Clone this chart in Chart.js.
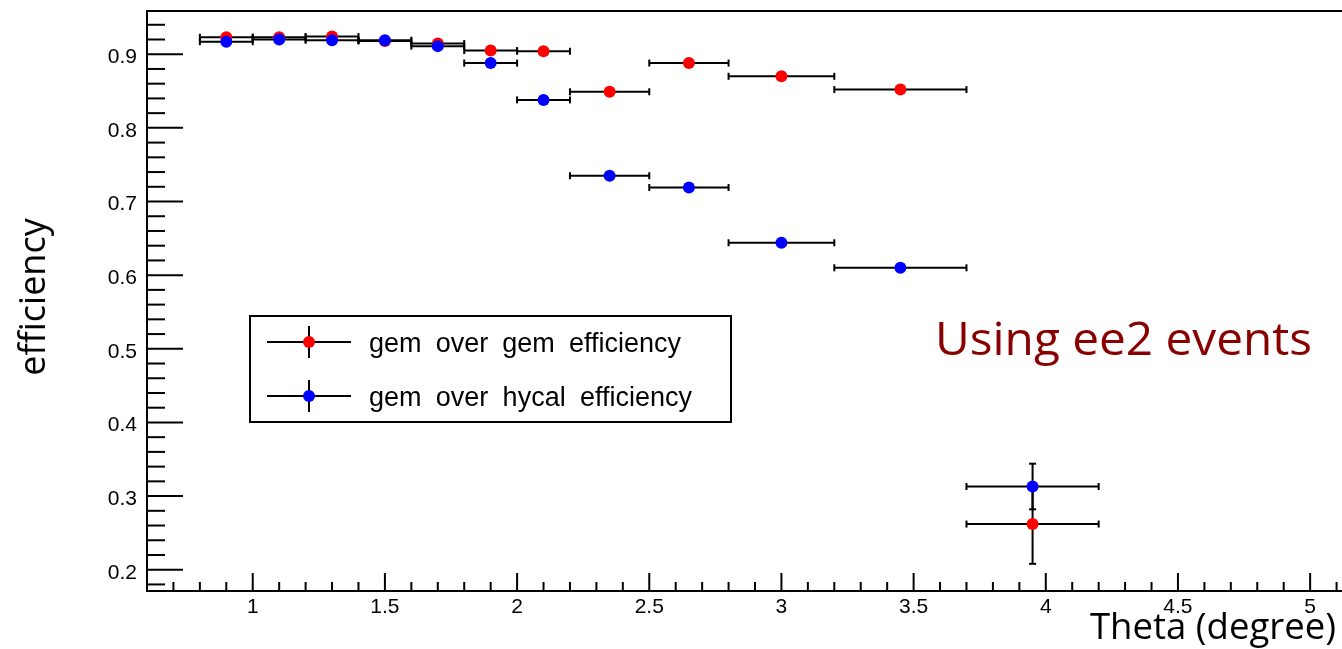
<!DOCTYPE html>
<html><head><meta charset="utf-8">
<script src="https://cdn.jsdelivr.net/npm/chart.js@4"></script>
<style>html,body{margin:0;padding:0;overflow:hidden;background:#fff}#wrap{width:1363px;height:649px;position:relative}canvas{display:block}</style>
</head><body>
<div id="wrap"><canvas id="c" width="1363" height="649" style="width:1363px;height:649px"></canvas></div>
<script>
// ---- data ----
const binCenters = [0.9, 1.1, 1.3, 1.5, 1.7, 1.9, 2.1, 2.35, 2.65, 3.0, 3.45, 3.95];
const binLow     = [0.8, 1.0, 1.2, 1.4, 1.6, 1.8, 2.0, 2.2, 2.5, 2.8, 3.2, 3.7];
const binHigh    = [1.0, 1.2, 1.4, 1.6, 1.8, 2.0, 2.2, 2.5, 2.8, 3.2, 3.7, 4.2];
const gemOverGem      = [0.923, 0.923, 0.924, 0.918, 0.9145, 0.905, 0.904, 0.849, 0.888, 0.870, 0.852, 0.262];
const gemOverGemErr   = [0.002, 0.002, 0.002, 0.002, 0.003, 0.003, 0.003, 0.004, 0.004, 0.004, 0.005, 0.054];
const gemOverHycal    = [0.917, 0.920, 0.919, 0.919, 0.911, 0.888, 0.838, 0.735, 0.719, 0.644, 0.610, 0.313];
const gemOverHycalErr = [0.002, 0.002, 0.002, 0.002, 0.003, 0.003, 0.003, 0.004, 0.004, 0.005, 0.005, 0.031];
const xTickLabels = [1, 1.5, 2, 2.5, 3, 3.5, 4, 4.5, 5];
const yTickLabels = [0.2, 0.3, 0.4, 0.5, 0.6, 0.7, 0.8, 0.9];
const seriesNames = ['gem over gem efficiency', 'gem over hycal efficiency'];
const seriesColors = ['#ff0000', '#0000ff'];
const xTitle = 'Theta (degree)';
const yTitle = 'efficiency';
const noteText = 'Using ee2 events';

function buildPoints(ys, errs) {
  return binCenters.map((x, i) => ({x: x, y: ys[i], xMin: binLow[i], xMax: binHigh[i], err: errs[i]}));
}

const R = 6;
function seg(ctx, x1, y1, x2, y2) { ctx.beginPath(); ctx.moveTo(x1, y1); ctx.lineTo(x2, y2); ctx.stroke(); }

function fitText(ctx, text, x, y, w) {
  const nat = ctx.measureText(text).width;
  ctx.save();
  ctx.translate(x, y);
  ctx.scale(w / nat, 1);
  ctx.textAlign = 'left';
  ctx.fillText(text, 0, 0);
  ctx.restore();
}

const rootStyle = {
  id: 'rootStyle',
  beforeDatasetsDraw(chart) {
    const ctx = chart.ctx, xs = chart.scales.x, ys = chart.scales.y;
    ctx.save();
    ctx.strokeStyle = '#000'; ctx.lineWidth = 2;
    chart.data.datasets.forEach(ds => {
      ds.data.forEach(p => {
        const cx = xs.getPixelForValue(p.x), cy = ys.getPixelForValue(p.y);
        const xl = xs.getPixelForValue(p.xMin), xh = xs.getPixelForValue(p.xMax);
        const yl = ys.getPixelForValue(p.y - p.err), yh = ys.getPixelForValue(p.y + p.err);
        seg(ctx, xl, cy, xh, cy);
        seg(ctx, xl, cy - 3.5, xl, cy + 3.5);
        seg(ctx, xh, cy - 3.5, xh, cy + 3.5);
        if (yl - cy > R) { seg(ctx, cx, cy, cx, yl); seg(ctx, cx - 3.5, yl, cx + 3.5, yl); }
        if (cy - yh > R) { seg(ctx, cx, cy, cx, yh); seg(ctx, cx - 3.5, yh, cx + 3.5, yh); }
      });
    });
    ctx.restore();
  },
  afterDraw(chart) {
    const ctx = chart.ctx, xs = chart.scales.x, ys = chart.scales.y, a = chart.chartArea;
    ctx.save();
    ctx.strokeStyle = '#000'; ctx.lineWidth = 2; ctx.lineCap = 'butt';
    // frame
    seg(ctx, a.left, a.top, a.right, a.top);
    seg(ctx, a.left, a.top - 1, a.left, a.bottom + 1);
    seg(ctx, a.left - 1, a.bottom, a.right, a.bottom);
    // y ticks
    for (let k = 0; ; k++) {
      const v = Math.round((0.18 + k * 0.02) * 100) / 100;
      if (v > ys.max) break;
      const py = ys.getPixelForValue(v);
      const major = yTickLabels.some(t => Math.abs(t - v) < 1e-6);
      seg(ctx, a.left, py, a.left + (major ? 36 : 18), py);
    }
    // x ticks
    for (let k = 0; ; k++) {
      const v = Math.round((0.7 + k * 0.1) * 10) / 10;
      if (v > xs.max) break;
      const px = xs.getPixelForValue(v);
      const major = xTickLabels.some(t => Math.abs(t - v) < 1e-6);
      seg(ctx, px, a.bottom, px, a.bottom - (major ? 18 : 9));
    }
    // axis titles
    ctx.fillStyle = '#000';
    ctx.font = '36px "Open Sans"';
    ctx.textBaseline = 'alphabetic';
    fitText(ctx, xTitle, 1336 - 246, 639, 246);
    ctx.save();
    ctx.translate(45, 297);
    ctx.rotate(-Math.PI / 2);
    ctx.textAlign = 'center';
    ctx.fillText(yTitle, 0, 0);
    ctx.restore();
    // note
    ctx.fillStyle = '#880000';
    ctx.font = '46px "Open Sans"';
    fitText(ctx, noteText, 935, 355, 377);
    // legend
    ctx.fillStyle = '#fff';
    ctx.fillRect(249, 316, 482, 106);
    ctx.strokeStyle = '#000'; ctx.lineWidth = 2;
    ctx.strokeRect(250, 316, 481, 106);
    const rowsY = [342, 396];
    const targetW = [312, 323];
    seriesNames.forEach((name, i) => {
      const y = rowsY[i];
      ctx.strokeStyle = '#000'; ctx.lineWidth = 2;
      seg(ctx, 267, y, 351, y);
      seg(ctx, 309, y - 16, 309, y + 16);
      ctx.fillStyle = seriesColors[i];
      ctx.beginPath(); ctx.arc(309, y, R, 0, Math.PI * 2); ctx.fill();
      ctx.fillStyle = '#000';
      ctx.font = '27px "Liberation Sans"';
      const words = name.split(' ');
      const widths = words.map(w => ctx.measureText(w).width);
      const total = widths.reduce((s, w) => s + w, 0);
      const gap = (targetW[i] - total) / (words.length - 1);
      let x = 369;
      words.forEach((w, j) => {
        ctx.textAlign = 'left';
        ctx.fillText(w, x, y + 10);
        x += widths[j] + gap;
      });
    });
    ctx.restore();
  }
};

function fixY(s) { s.width = 147; s.paddingTop = 0; s.paddingBottom = 0; s.paddingLeft = 0; s.paddingRight = 0; }
function fixX(s) { s.height = 58; s.paddingTop = 0; s.paddingBottom = 0; s.paddingLeft = 0; s.paddingRight = 0; }

new Chart(document.getElementById('c'), {
  type: 'scatter',
  data: {
    datasets: [
      {label: seriesNames[0], data: buildPoints(gemOverGem, gemOverGemErr), backgroundColor: seriesColors[0], borderWidth: 0, pointRadius: R, pointHoverRadius: R, order: 2},
      {label: seriesNames[1], data: buildPoints(gemOverHycal, gemOverHycalErr), backgroundColor: seriesColors[1], borderWidth: 0, pointRadius: R, pointHoverRadius: R, order: 1}
    ]
  },
  options: {
    responsive: false,
    maintainAspectRatio: false,
    animation: false,
    devicePixelRatio: 1,
    layout: {autoPadding: false, padding: {top: 11, left: 0, right: 0, bottom: 0}},
    plugins: {legend: {display: false}, tooltip: {enabled: false}, title: {display: false}},
    events: [],
    scales: {
      x: {
        type: 'linear', min: 0.6, max: 5.2,
        grid: {display: false, drawTicks: false}, border: {display: false},
        afterBuildTicks: s => { s.ticks = xTickLabels.map(v => ({value: v})); },
        afterFit: fixX,
        ticks: {color: '#000', font: {family: '"Liberation Sans"', size: 21}, padding: 4, maxRotation: 0, autoSkip: false, callback: v => String(v)}
      },
      y: {
        type: 'linear', min: 0.1711, max: 0.9587,
        grid: {display: false, drawTicks: false}, border: {display: false},
        afterBuildTicks: s => { s.ticks = yTickLabels.map(v => ({value: v})); },
        afterFit: fixY,
        ticks: {color: '#000', font: {family: '"Liberation Sans"', size: 21}, padding: 10, labelOffset: 3, autoSkip: false, callback: v => String(v)}
      }
    }
  },
  plugins: [rootStyle]
});
</script>
</body></html>
